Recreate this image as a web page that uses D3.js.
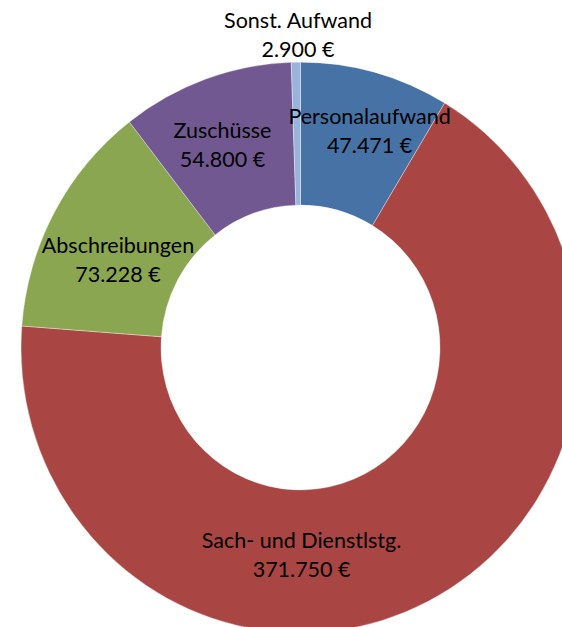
<!DOCTYPE html>
<html>
  <head>
    <meta charset="utf-8">
    <style>
      html, body {
        margin: 0px;
        padding: 0px;
        background: #fff;
      }
      svg {
        display: block;
      }
      text {
        font-family: Lato, "Noto Sans", sans-serif;
        font-size: 21.5px;
        fill: #000;
      }
    </style>
  </head>
  <body>
    <svg id="chart" width="562" height="627"></svg>
    <script src="https://cdnjs.cloudflare.com/ajax/libs/d3/7.8.5/d3.min.js" charset="utf-8"></script>
    <script>
      // chart data, clockwise from 12 o'clock
      var categories = ["Personalaufwand", "Sach- und Dienstlstg.", "Abschreibungen", "Zuschüsse", "Sonst. Aufwand"];
      var values = [47.471, 371.750, 73.228, 54.800, 2.900];
      var valueLabels = ["47.471 €", "371.750 €", "73.228 €", "54.800 €", "2.900 €"];
      var colors = ["#4672a6", "#a94542", "#8aa650", "#715891", "#9ab3da"];

      // label nudges away from the ring middle (as dragged in the original)
      var labelNudge = [[13, -10], [-95, 17], [2, 14], [-7, -1], [1, -99]];

      var cx = 300.5, cy = 347.5;
      var outerR = 279.5, innerR = 139.5;
      var squash = 1.021; // the ring is a bit taller than wide

      var svg = d3.select('#chart');

      var slices = d3.pie()
        .sort(null)
        .value(function(d) { return d; })(values);

      var arc = d3.arc()
        .innerRadius(innerR)
        .outerRadius(outerR);

      var ring = svg.append('g')
        .attr('transform', 'translate(' + cx + ',' + cy + ') scale(1,' + squash + ')');

      ring.selectAll('path')
        .data(slices)
        .enter().append('path')
        .attr('d', arc)
        .attr('fill', function(d, i) { return colors[i]; })
        .attr('stroke', '#fff')
        .attr('stroke-opacity', 0.5)
        .attr('stroke-width', 0.7);

      var labels = svg.append('g');

      labels.selectAll('text')
        .data(slices)
        .enter().append('text')
        .attr('text-anchor', 'middle')
        .each(function(d, i) {
          var c = arc.centroid(d);
          var x = cx + c[0] + labelNudge[i][0];
          var y = cy + c[1] * squash + labelNudge[i][1];
          var t = d3.select(this);
          t.append('tspan').attr('x', x).attr('y', y - 7).text(categories[i]);
          t.append('tspan').attr('x', x).attr('y', y + 22).text(valueLabels[i]);
        });
    </script>
  </body>
</html>
